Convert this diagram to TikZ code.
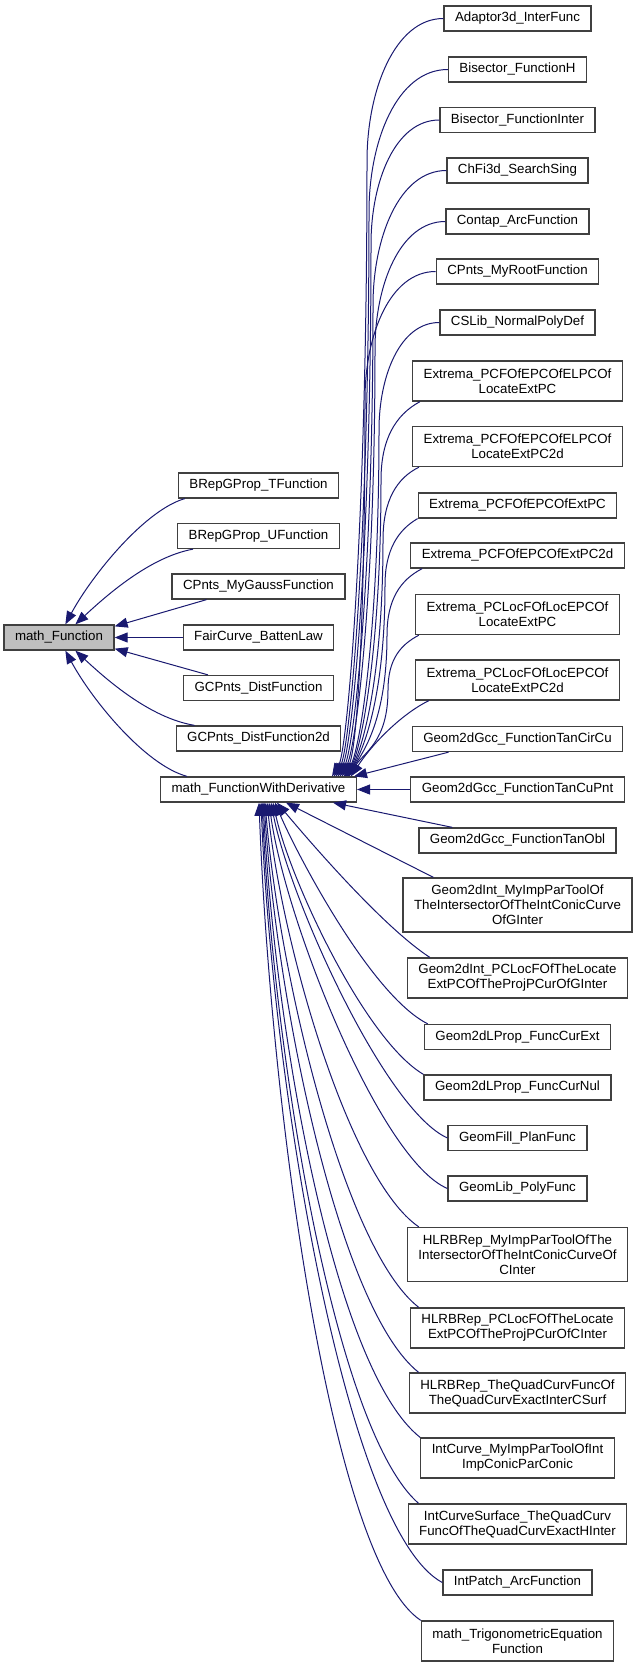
\documentclass[tikz,border=0pt]{standalone}
\usepackage{fontspec}
\setmainfont{Liberation Sans}
\usetikzlibrary{arrows.meta}

\definecolor{edgeblue}{HTML}{191970}
\definecolor{boxline}{HTML}{404040}
\definecolor{basefill}{HTML}{BFBFBF}

\begin{document}
\begin{tikzpicture}[x=1pt,y=-1pt,
    box/.style={draw=boxline,line width=1.3pt,fill=white,inner xsep=11pt,inner ysep=0pt,
      align=center,font=\fontsize{13.3}{15}\selectfont},
    one/.style={box,minimum height=25pt,text height=9.5pt,text depth=2.7pt},
    two/.style={box,minimum height=40pt},
    three/.style={box,minimum height=54pt},
    inh/.style={draw=edgeblue,line width=1pt,-{Triangle[length=13pt,width=10pt]}}]
    \useasboundingbox (0,0) rectangle (636,1667);

    \node[one,fill=basefill] (mf) at (59,637.5) {math\_Function};

    \node[one] (brepT) at (258.5,485.5) {BRepGProp\_TFunction};
    \node[one] (brepU) at (258.5,536) {BRepGProp\_UFunction};
    \node[one] (gauss) at (258.5,586.5) {CPnts\_MyGaussFunction};
    \node[one] (batten) at (258.5,637.5) {FairCurve\_BattenLaw};
    \node[one] (dist) at (258.5,688) {GCPnts\_DistFunction};
    \node[one] (dist2d) at (258.5,738.5) {GCPnts\_DistFunction2d};
    \node[one] (mfd) at (258.5,789.5) {math\_FunctionWithDerivative};

    \node[one] (adaptor) at (517.5,18.5) {Adaptor3d\_InterFunc};
    \node[one] (bisH) at (517.5,69.5) {Bisector\_FunctionH};
    \node[one] (bisI) at (517.5,120) {Bisector\_FunctionInter};
    \node[one] (chfi) at (517.5,170.5) {ChFi3d\_SearchSing};
    \node[one] (contap) at (517.5,221.5) {Contap\_ArcFunction};
    \node[one] (root) at (517.5,271.5) {CPnts\_MyRootFunction};
    \node[one] (cslib) at (517.5,322.5) {CSLib\_NormalPolyDef};
    \node[two] (extA) at (517.5,381) {Extrema\_PCFOfEPCOfELPCOf\\LocateExtPC};
    \node[two] (extB) at (517.5,446.5) {Extrema\_PCFOfEPCOfELPCOf\\LocateExtPC2d};
    \node[one] (extC) at (517.5,505.5) {Extrema\_PCFOfEPCOfExtPC};
    \node[one] (extD) at (517.5,555.5) {Extrema\_PCFOfEPCOfExtPC2d};
    \node[two] (extE) at (517.5,614.5) {Extrema\_PCLocFOfLocEPCOf\\LocateExtPC};
    \node[two] (extF) at (517.5,680) {Extrema\_PCLocFOfLocEPCOf\\LocateExtPC2d};
    \node[one] (tanCir) at (517.5,739) {Geom2dGcc\_FunctionTanCirCu};
    \node[one] (tanPnt) at (517.5,789.5) {Geom2dGcc\_FunctionTanCuPnt};
    \node[one] (tanObl) at (517.5,840.5) {Geom2dGcc\_FunctionTanObl};
    \node[three] (gImp) at (517.5,905) {Geom2dInt\_MyImpParToolOf\\TheIntersectorOfTheIntConicCurve\\OfGInter};
    \node[two] (gLoc) at (517.5,978) {Geom2dInt\_PCLocFOfTheLocate\\ExtPCOfTheProjPCurOfGInter};
    \node[one] (curExt) at (517.5,1037) {Geom2dLProp\_FuncCurExt};
    \node[one] (curNul) at (517.5,1087.5) {Geom2dLProp\_FuncCurNul};
    \node[one] (plan) at (517.5,1138) {GeomFill\_PlanFunc};
    \node[one] (poly) at (517.5,1188.5) {GeomLib\_PolyFunc};
    \node[three] (hImp) at (517.5,1254.5) {HLRBRep\_MyImpParToolOfThe\\IntersectorOfTheIntConicCurveOf\\CInter};
    \node[two] (hLoc) at (517.5,1328) {HLRBRep\_PCLocFOfTheLocate\\ExtPCOfTheProjPCurOfCInter};
    \node[two] (hQuad) at (517.5,1393) {HLRBRep\_TheQuadCurvFuncOf\\TheQuadCurvExactInterCSurf};
    \node[two] (icImp) at (517.5,1458) {IntCurve\_MyImpParToolOfInt\\ImpConicParConic};
    \node[two] (icsQuad) at (517.5,1524) {IntCurveSurface\_TheQuadCurv\\FuncOfTheQuadCurvExactHInter};
    \node[one] (arc) at (517.5,1582.5) {IntPatch\_ArcFunction};
    \node[two] (trig) at (517.5,1641) {math\_TrigonometricEquation\\Function};

    \draw[inh] ([xshift=7pt]brepT.south west) .. controls (145,510) and (92,575) .. ([xshift=62pt]mf.north west);
    \draw[inh] ([xshift=16pt]brepU.south west) .. controls (150,557) and (107,595) .. ([xshift=72pt]mf.north west);
    \draw[inh] ([xshift=35pt]gauss.south west) -- ([yshift=-2pt]mf.north east);
    \draw[inh] (batten.west) -- (mf.east);
    \draw[inh] ([xshift=25pt]dist.north west) -- ([yshift=2pt]mf.south east);
    \draw[inh] ([xshift=19pt]dist2d.north west) .. controls (150,718) and (107,680) .. ([xshift=72pt]mf.south west);
    \draw[inh] ([xshift=27pt]mfd.north west) .. controls (145,765) and (92,700) .. ([xshift=62pt]mf.south west);

    \draw[inh] (adaptor.west) .. controls (395,18.5) and (367,90) .. (367,161) .. controls (367,531) and (347,752) .. ([xshift=172pt]mfd.north west);
    \draw[inh] (bisH.west) .. controls (397,69.5) and (369,141) .. (369,212) .. controls (369,551) and (349,752) .. ([xshift=174pt]mfd.north west);
    \draw[inh] (bisI.west) .. controls (395,120) and (371,182) .. (371,244) .. controls (371,564) and (351,752) .. ([xshift=176pt]mfd.north west);
    \draw[inh] (chfi.west) .. controls (399,170.5) and (373,238) .. (373,305) .. controls (373,588) and (353,752) .. ([xshift=178pt]mfd.north west);
    \draw[inh] (contap.west) .. controls (400,221.5) and (375,285) .. (375,349) .. controls (375,606) and (355,752) .. ([xshift=180pt]mfd.north west);
    \draw[inh] (root.west) .. controls (390,271.5) and (365,335) .. (365,399) .. controls (365,626) and (357,752) .. ([xshift=182pt]mfd.north west);
    \draw[inh] (cslib.west) .. controls (400,322.5) and (379,376) .. (379,430) .. controls (379,638) and (359,752) .. ([xshift=184pt]mfd.north west);
    \draw[inh] ([xshift=8pt]extA.south west) .. controls (395,415) and (381,440) .. (381,480) .. controls (381,655) and (360,752) .. ([xshift=185pt]mfd.north west);
    \draw[inh] ([xshift=7pt]extB.south west) .. controls (397,478) and (383,500) .. (383,540) .. controls (383,682) and (361,752) .. ([xshift=186pt]mfd.north west);
    \draw[inh] (extC.south west) .. controls (398,530) and (385,550) .. (385,585) .. controls (385,700) and (362,752) .. ([xshift=187pt]mfd.north west);
    \draw[inh] ([xshift=12pt]extD.south west) .. controls (400,580) and (387,600) .. (387,635) .. controls (387,720) and (363,752) .. ([xshift=188pt]mfd.north west);
    \draw[inh] ([xshift=4pt]extE.south west) .. controls (400,645) and (388,660) .. (388,690) .. controls (388,742) and (364,752) .. ([xshift=189pt]mfd.north west);
    \draw[inh] ([xshift=14pt]extF.south west) .. controls (405,712) and (375,740) .. ([xshift=191pt]mfd.north west);
    \draw[inh] ([xshift=37pt]tanCir.south west) -- ([xshift=-3pt]mfd.north east);
    \draw[inh] (tanPnt.west) -- (mfd.east);

    \draw[inh] ([xshift=34pt]tanObl.north west) -- ([xshift=-24pt]mfd.south east);
    \draw[inh] ([xshift=31pt]gImp.north west) -- ([xshift=126pt]mfd.south west);
    \draw[inh] ([xshift=23pt]gLoc.north west) .. controls (380,925) and (300,830) .. ([xshift=117pt]mfd.south west);
    \draw[inh] ([xshift=4pt]curExt.north west) .. controls (370,995) and (295,850) .. ([xshift=115pt]mfd.south west);
    \draw[inh] (curNul.north west) .. controls (365,1040) and (290,880) .. ([xshift=113pt]mfd.south west);
    \draw[inh] (plan.west) .. controls (385,1110) and (290,900) .. ([xshift=111pt]mfd.south west);
    \draw[inh] (poly.west) .. controls (380,1160) and (285,920) .. ([xshift=109pt]mfd.south west);
    \draw[inh] ([xshift=12pt]hImp.north west) .. controls (350,1180) and (283,950) .. ([xshift=107pt]mfd.south west);
    \draw[inh] ([xshift=9pt]hLoc.north west) .. controls (345,1250) and (280,980) .. ([xshift=105pt]mfd.south west);
    \draw[inh] ([xshift=10pt]hQuad.north west) .. controls (340,1310) and (278,1010) .. ([xshift=104pt]mfd.south west);
    \draw[inh] (icImp.north west) .. controls (335,1370) and (276,1040) .. ([xshift=103pt]mfd.south west);
    \draw[inh] ([xshift=11pt]icsQuad.north west) .. controls (335,1430) and (274,1060) .. ([xshift=102pt]mfd.south west);
    \draw[inh] (arc.west) .. controls (345,1530) and (272,1080) .. ([xshift=101pt]mfd.south west);
    \draw[inh] (trig.north west) .. controls (330,1560) and (270,1100) .. ([xshift=99pt]mfd.south west);
\end{tikzpicture}
\end{document}
